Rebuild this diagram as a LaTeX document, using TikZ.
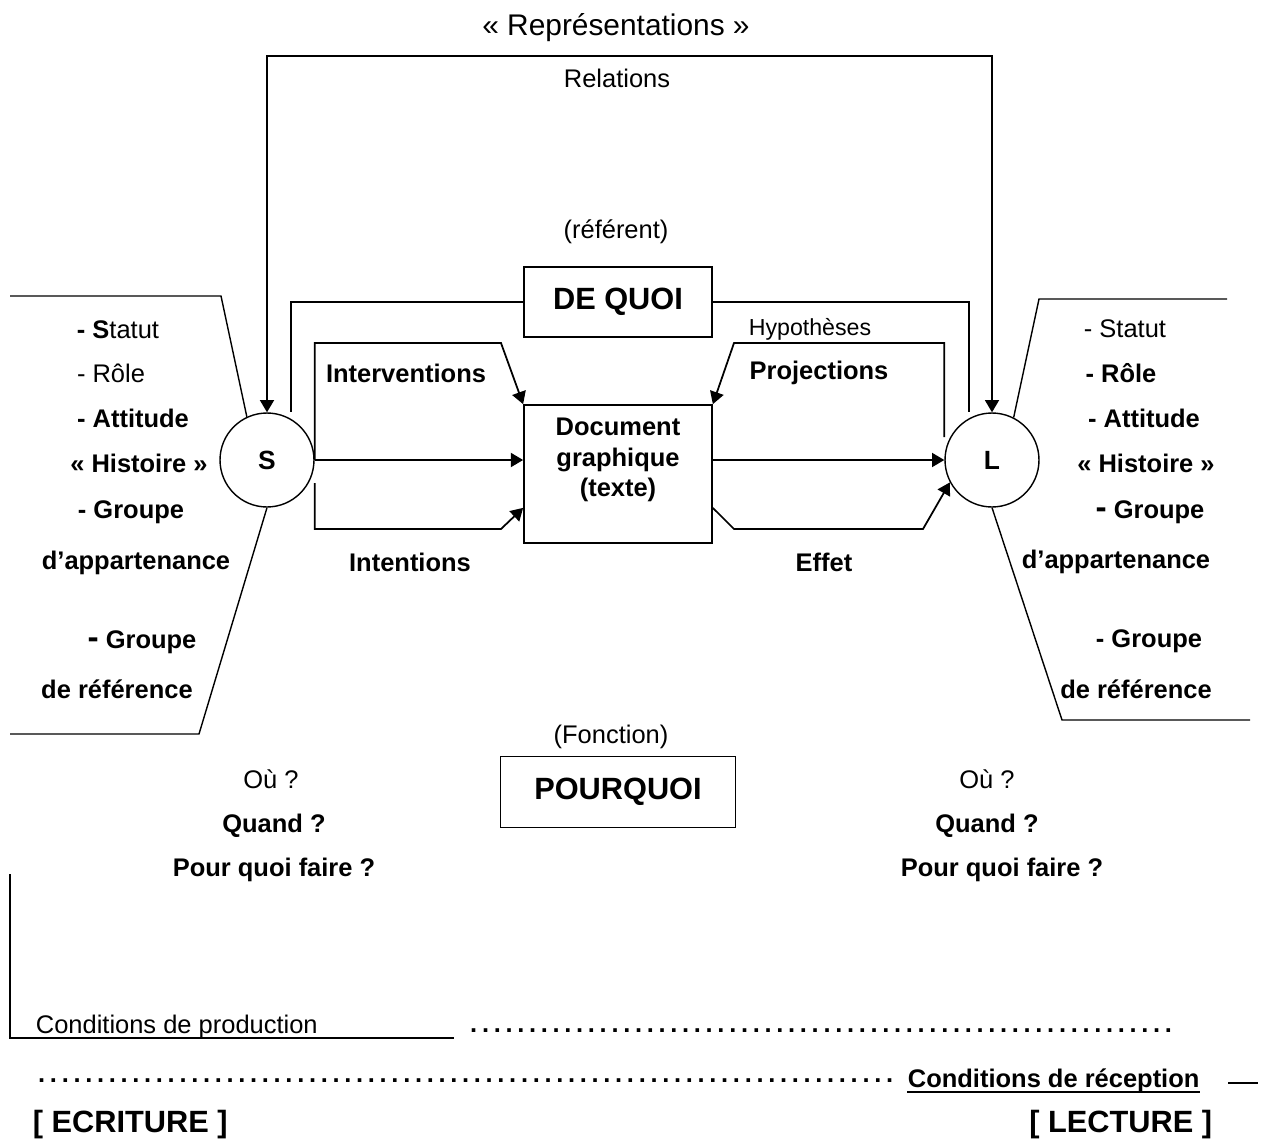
\documentclass[tikz,border=0pt]{standalone}
\usepackage{fontspec}
\setmainfont{Liberation Sans}
\usetikzlibrary{arrows.meta}

\newcommand{\dotrow}[1]{\hbox to #1{\leaders\hbox to 6.7pt{\hss\bfseries.\hss}\hfill}}
\newcommand{\bigdash}{{\fontsize{19}{19}\selectfont -}}

\begin{document}
\begin{tikzpicture}[
  x=0.02cm, y=-0.02cm,
  >={Triangle[length=7pt,width=8pt]},
  line width=1pt,
  txt/.style={font=\fontsize{14.5}{17}\selectfont, inner sep=0pt},
  lbl/.style={font=\fontsize{14.5}{17.5}\selectfont\bfseries, inner sep=0pt},
  big/.style={font=\fontsize{17.5}{20}\selectfont\bfseries},
  box/.style={draw, line width=1pt, align=center},
  actor/.style={draw, circle, line width=0.8pt, minimum size=1.88cm, inner sep=0pt, font=\fontsize{15}{17}\selectfont\bfseries},
  frame/.style={line width=0.8pt}
]
\useasboundingbox (0,0) rectangle (1261,1146);

% Actors
\node[actor] (S) at (267,460) {S};
\node[actor] (L) at (992,460) {L};

% Boxes
\node[box, minimum width=3.76cm, minimum height=2.76cm,
  label={[lbl, align=center, yshift=0.28cm]center:Document\\graphique\\(texte)}] (doc) at (618,474) {};
\node[box, big, minimum width=3.76cm, minimum height=1.4cm] (dequoi) at (618,302) {DE QUOI};
\node[box, big, minimum width=4.7cm, minimum height=1.42cm] (pourquoi) at (618,792) {POURQUOI};

% Corners
\coordinate (reltop) at (630,56);
\coordinate (sq) at (291,412);
\coordinate (lq) at (969,412);
\coordinate (intv) at (501,343);
\coordinate (intn) at (501,529);
\coordinate (hyp) at (734,343);
\coordinate (eff1) at (734,529);
\coordinate (eff2) at (923,529);

% Labels
\node[txt, font=\fontsize{17}{19}\selectfont] (title) at (616,28) {« Représentations »};
\node[txt] (rel) at (617,78) {Relations};
\node[txt] (referent) at (616,232) {(référent)};
\node[txt, font=\fontsize{13.2}{15}\selectfont] (hyptxt) at (810,329) {Hypothèses};
\node[lbl] (interv) at (406,373) {Interventions};
\node[lbl] (proj) at (819,373) {Projections};
\node[lbl] (intent) at (410,562) {Intentions};
\node[lbl] (effet) at (824,562) {Effet};
\node[txt] (fonction) at (611,737) {(Fonction)};

% Scripteur
\node[txt] (sA) at (118,330) {\textbf{- S}tatut};
\node[txt] (sB) at (111,373) {- Rôle};
\node[lbl] (sC) at (133,418) {- Attitude};
\node[lbl] (sD) at (139,463) {« Histoire »};
\node[lbl] (sE) at (131,512) {- Groupe};
\node[lbl] (sF) at (136,563) {d’appartenance};
\node[lbl] (sG) at (142,642) {\bigdash\ Groupe};
\node[lbl] (sH) at (117,689) {de référence};

% Lecteur
\node[txt] (lA) at (1125,329) {- Statut};
\node[lbl] (lB) at (1121,373) {- Rôle};
\node[lbl] (lC) at (1144,418) {- Attitude};
\node[lbl] (lD) at (1146,463) {« Histoire »};
\node[lbl] (lE) at (1150,512) {\bigdash\ Groupe};
\node[lbl] (lF) at (1116,562) {d’appartenance};
\node[lbl] (lG) at (1149,641) {- Groupe};
\node[lbl] (lH) at (1136,689) {de référence};

% Circumstances
\node[txt] (ouS) at (271,779) {Où ?};
\node[lbl] (quandS) at (274,826) {Quand ?};
\node[lbl] (pqfS) at (274,870) {Pour quoi faire ?};
\node[txt] (ouL) at (987,779) {Où ?};
\node[lbl] (quandL) at (987,826) {Quand ?};
\node[lbl] (pqfL) at (1002,870) {Pour quoi faire ?};

% Conditions
\node[txt, anchor=west] (prod) at (35,1027) {Conditions de production};
\node[txt, anchor=west] (dots1) at (467,1031) {\dotrow{408pt}};
\node[txt, anchor=west] (dots2) at (35,1081) {\dotrow{490pt}};
\node[lbl, anchor=west] (recep) at (907,1081) {Conditions de réception};
\node[big, anchor=west, inner sep=0pt] (ecriture) at (32,1125) {[ ECRITURE ]};
\node[big, anchor=east, inner sep=0pt] (lecture) at (1213,1125) {[ LECTURE ]};

% Edges
\draw[<->] (S.north) |- (reltop) -| (L.north);
\draw (dequoi.west) -| (sq);
\draw (dequoi.east) -| (lq);
\draw[->] (S.east) -- (S.east -| doc.west);
\draw[->] (doc.east |- L.west) -- (L.west);
\draw[->] (S.east) |- (intv) -- (doc.north west);
\draw[->] ([yshift=-0.46cm]S.east) |- (intn) -- ([yshift=0.72cm]doc.south west);
\draw[->] ([yshift=0.46cm]L.west) |- (hyp) -- (doc.north east);
\draw[->] ([yshift=0.72cm]doc.south east) -- (eff1) -- (eff2) -- (L.208);

% Frames
\draw[frame] (10,296) -- (221,296) -- (S.115);
\draw[frame] (S.south) -- (199,734) -- (10,734);
\draw[frame] (L.63) -- (1039,299) -- (1227,299);
\draw[frame] (L.south) -- (1062,720) -- (1250,720);
\draw[frame] (10,874) |- (454,1038);
\draw[line width=1.3pt] ([yshift=-2.5pt]recep.base west) -- ([yshift=-2.5pt]recep.base east);
\draw[frame] (1228,1083) -- (1258,1083);

\end{tikzpicture}
\end{document}
